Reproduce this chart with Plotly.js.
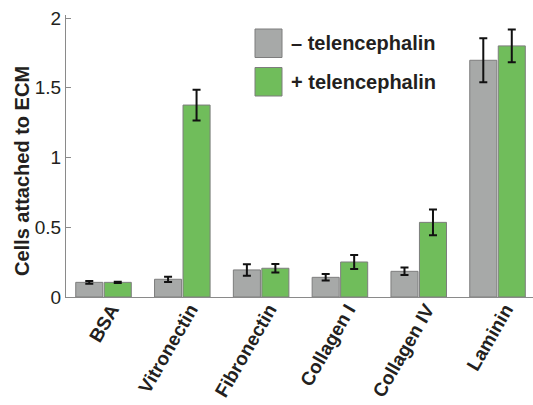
<!DOCTYPE html>
<html>
<head>
<meta charset="utf-8">
<script src="https://cdn.plot.ly/plotly-3.0.1.min.js"></script>
<style>html,body{margin:0;padding:0;background:#fff;}#chart{width:533px;height:405px;}</style>
</head>
<body>
<div id="chart"></div>
<script>
var categories = ["BSA", "Vitronectin", "Fibronectin", "Collagen I", "Collagen IV", "Laminin"];
var minusValues = [0.105, 0.127, 0.194, 0.141, 0.184, 1.697];
var minusErrors = [0.010, 0.019, 0.041, 0.023, 0.027, 0.157];
var plusValues = [0.105, 1.376, 0.206, 0.251, 0.535, 1.800];
var plusErrors = [0.005, 0.110, 0.030, 0.050, 0.092, 0.118];
var seriesNames = ["\u2013 telencephalin", "+ telencephalin"];
var yTitle = "Cells attached to ECM";
var yTicks = [0, 0.5, 1, 1.5, 2];
var yTickLabels = ["0", "0.5", "1", "1.5", "2"];

var FONT = "Liberation Sans, Arial, sans-serif";
var colors = ["#a7a9a8", "#70bd5b"];
var outline = "#7d7d7d";

function barTrace(name, vals, errs, color) {
  return {
    type: "bar", name: name, x: categories, y: vals,
    marker: {color: color, line: {color: outline, width: 1}},
    error_y: {type: "data", array: errs, visible: true, color: "#111", thickness: 2, width: 4},
    showlegend: false
  };
}

var data = [
  barTrace(seriesNames[0], minusValues, minusErrors, colors[0]),
  barTrace(seriesNames[1], plusValues, plusErrors, colors[1])
];

var layout = {
  width: 533, height: 405,
  margin: {l: 66, r: 0, t: 15, b: 108, pad: 0},
  paper_bgcolor: "#fff", plot_bgcolor: "#fff",
  barmode: "group", bargap: 0.277, bargroupgap: 0.05,
  font: {family: FONT, color: "#231f20"},
  xaxis: {
    range: [-0.476, 5.45], showline: true, linecolor: "#8a8a8a", linewidth: 1,
    ticks: "", showgrid: false, zeroline: false,
    tickangle: -60, ticklabelshift: 8, ticklabelstandoff: -7,
    tickfont: {family: FONT, size: 19, weight: "bold", color: "#231f20"}
  },
  yaxis: {
    range: [0, 2.0215], showline: true, linecolor: "#8a8a8a", linewidth: 1,
    ticks: "inside", ticklen: 5, tickcolor: "#8a8a8a",
    tickvals: yTicks, ticktext: yTickLabels, showgrid: false, zeroline: false,
    tickfont: {family: FONT, size: 19, color: "#231f20"}
  },
  shapes: [
    {type: "rect", xref: "paper", yref: "paper", x0: (255-66)/467, x1: (282-66)/467, y0: (297-57.5)/282, y1: (297-29)/282, fillcolor: colors[0], line: {color: outline, width: 1}},
    {type: "rect", xref: "paper", yref: "paper", x0: (255-66)/467, x1: (282-66)/467, y0: (297-96)/282, y1: (297-67.5)/282, fillcolor: colors[1], line: {color: outline, width: 1}}
  ],
  annotations: [
    {xref: "paper", yref: "paper", x: (289-66)/467, y: (297-43)/282, xanchor: "left", yanchor: "middle", showarrow: false, text: seriesNames[0], font: {family: FONT, size: 20, weight: "bold", color: "#231f20"}},
    {xref: "paper", yref: "paper", x: (289-66)/467, y: (297-82)/282, xanchor: "left", yanchor: "middle", showarrow: false, text: seriesNames[1], font: {family: FONT, size: 20, weight: "bold", color: "#231f20"}},
    {xref: "paper", yref: "paper", x: (22-66)/467, y: (297-171)/282, xanchor: "center", yanchor: "middle", showarrow: false, textangle: -90, text: yTitle, font: {family: FONT, size: 20, weight: "bold", color: "#231f20"}}
  ]
};

Plotly.newPlot("chart", data, layout, {staticPlot: true, displayModeBar: false});
</script>
</body>
</html>
